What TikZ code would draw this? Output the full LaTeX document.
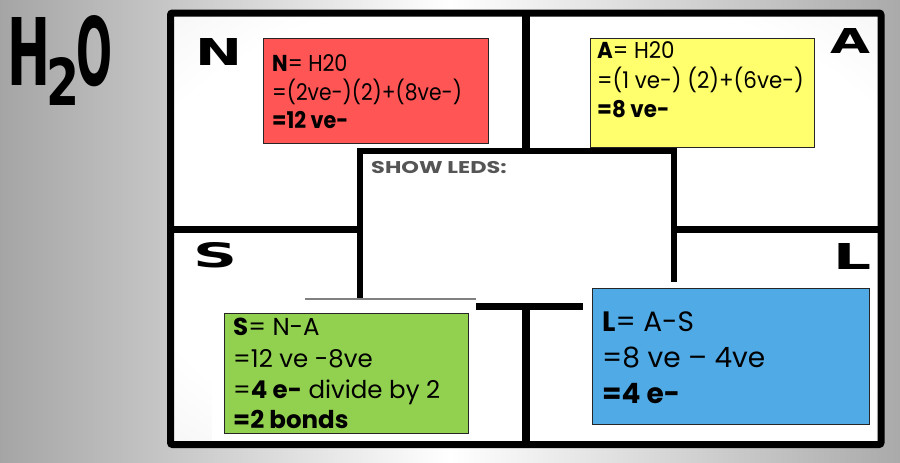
\documentclass[tikz,border=0pt]{standalone}
\usepackage{fontspec}
\setmainfont{Poppins}
\newfontfamily\heavyfont{DejaVu Sans}
\definecolor{redbox}{RGB}{255,85,85}
\definecolor{yelbox}{RGB}{255,255,110}
\definecolor{grnbox}{RGB}{146,208,80}
\definecolor{blubox}{RGB}{80,170,230}
\definecolor{bgleft}{RGB}{165,165,165}
\definecolor{bgright}{RGB}{170,170,170}
\definecolor{inmid}{RGB}{230,230,230}
\definecolor{indark}{RGB}{200,200,200}
\definecolor{ledgray}{RGB}{85,85,85}
\pgfdeclareradialshading{inrad}{\pgfpoint{0bp}{0bp}}{color(0bp)=(white); color(28bp)=(white); color(50bp)=(inmid); color(72bp)=(indark)}
\tikzset{
  txt/.style={anchor=base west, inner sep=0pt, font=\fontsize{23}{23}\selectfont},
  txtg/.style={anchor=base west, inner sep=0pt, font=\fontsize{24.5}{24.5}\selectfont},
  txtb/.style={anchor=base west, inner sep=0pt, font=\fontsize{28}{28}\selectfont},
  big/.style={anchor=base west, inner sep=0pt},
  colbox/.style={draw=black!85, line width=0.9pt},
  heavyline/.style={draw=black, line width=6.5pt},
  backing/.style={fill=white, draw=none}
}
\newcommand{\bigletter}[3]{\resizebox{#1pt}{#2pt}{\heavyfont\bfseries #3}}
\newcommand{\sqz}[2]{\scalebox{#1}[1]{#2}}
\begin{document}
\begin{tikzpicture}[x=1pt,y=-1pt]
\useasboundingbox (0,0) rectangle (900,463);
% background
\shade[left color=bgleft, right color=bgright, middle color=white] (0,0) rectangle (900,463);
% frame interior
\shade[shading=inrad] (170.5,13) rectangle (881,444.5);
% dividers
\coordinate (tvtop) at (526,13);
\coordinate (tvbot) at (526,151);
\coordinate (bvtop) at (526,306.5);
\coordinate (bvbot) at (526,444.5);
\coordinate (lhl) at (170.5,229.5);
\coordinate (lhr) at (360,229.5);
\coordinate (rhl) at (674,229.5);
\coordinate (rhr) at (881,229.5);
\draw[heavyline, line width=8pt] (tvtop) -- (tvbot);
\draw[heavyline, line width=8pt] (bvtop) -- (bvbot);
\draw[heavyline] (lhl) -- (lhr);
\draw[heavyline] (rhl) -- (rhr);
% centre box
\draw[heavyline, fill=white] (360,151) rectangle (674,306.5);
\node[anchor=base west, inner sep=0pt, text=ledgray, font=\fontsize{17}{17}\selectfont\bfseries] (leds) at (371,173) {\sqz{1.32}{SHOW LEDS:}};
% white backings
\fill[white] (212,299) rectangle (476,441);
\draw[gray, line width=1.2pt] (305,299) -- (476,299);
\fill[white] (583,282) rectangle (876,441);
% outer frame
\draw[draw=black, line width=7pt, rounded corners=2pt] (170.5,13) rectangle (881,444.5);
% big letters
\node[big] (H) at (7,85) {\bigletter{43}{68}{H}};
\node[big] (two) at (46.5,105) {\bigletter{33}{48}{2}};
\node[big] (O) at (76,85) {\bigletter{36}{70}{O}};
\node[big] (N) at (195,65) {\bigletter{47}{27}{N}};
\node[big] (A) at (830,53) {\bigletter{40}{25}{A}};
\node[big] (S) at (193,267) {\bigletter{44}{25}{S}};
\node[big] (L) at (833,269) {\bigletter{38}{26}{L}};
% coloured boxes
\draw[colbox, fill=redbox] (263,38) rectangle (488,143);
\draw[colbox, fill=yelbox] (590,38) rectangle (814,147);
\draw[colbox, fill=grnbox] (224,313) rectangle (468,433);
\draw[colbox, fill=blubox] (592,288) rectangle (869,424);
% red text
\node[txt] (n1) at (272,71) {\sqz{0.9}{\textbf{N}= H20}};
\node[txt] (n2) at (272,100) {\sqz{0.88}{=(2ve-)(2)+(8ve-)}};
\node[txt] (n3) at (272,128) {\sqz{0.9}{\textbf{=12 ve-}}};
% yellow text
\node[txt] (a1) at (597,58) {\sqz{0.93}{\textbf{A}= H20}};
\node[txt] (a2) at (597,88) {\sqz{0.93}{=(1 ve-) (2)+(6ve-)}};
\node[txt] (a3) at (597,117) {\sqz{0.93}{\textbf{=8 ve-}}};
% green text
\node[txtg] (s1) at (233,335) {\textbf{S}= N-A};
\node[txtg] (s2) at (233,367) {=12 ve -8ve};
\node[txtg] (s3) at (233,398) {=\textbf{4 e-} divide by 2};
\node[txtg] (s4) at (233,428) {\textbf{=2 bonds}};
% blue text
\node[txtb] (l1) at (602,331) {\textbf{L}= A-S};
\node[txtb] (l2) at (602,367) {=8 ve – 4ve};
\node[txtb] (l3) at (602,403) {\textbf{=4 e-}};
\end{tikzpicture}
\end{document}
